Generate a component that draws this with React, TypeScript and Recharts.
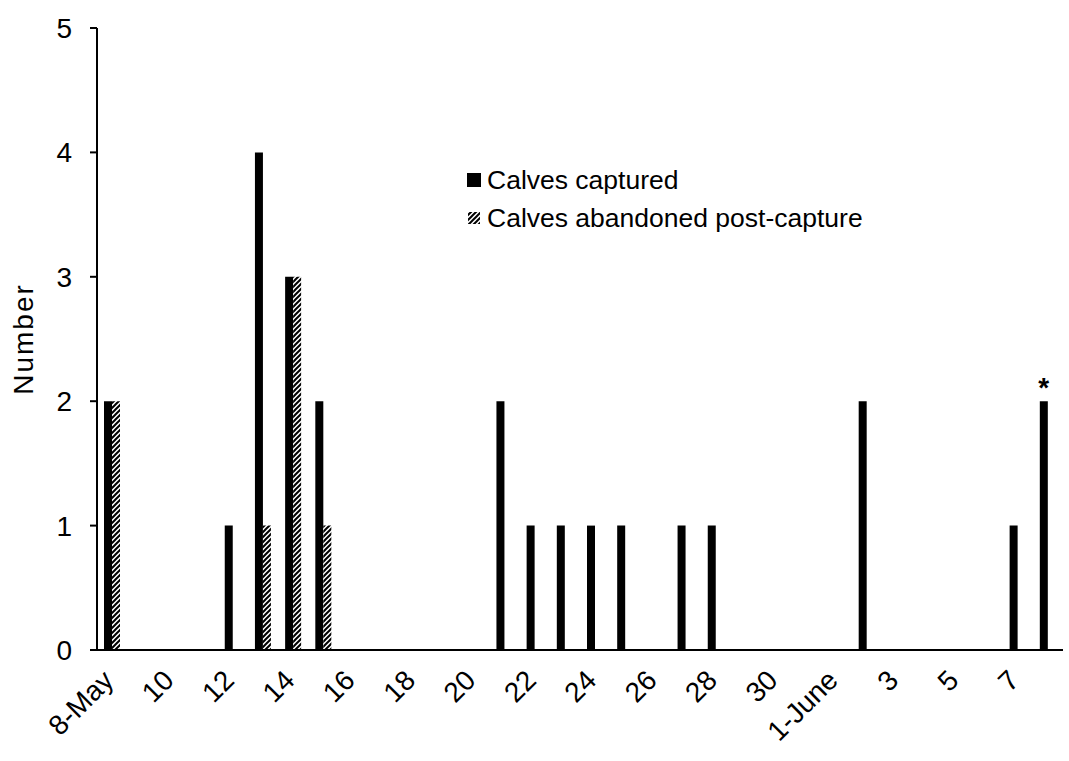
import { BarChart, Bar, XAxis, YAxis, Legend, LabelList } from "recharts"

const days = [
  "8-May", "9", "10", "11", "12", "13", "14", "15", "16", "17", "18", "19", "20",
  "21", "22", "23", "24", "25", "26", "27", "28", "29", "30", "31",
  "1-June", "2", "3", "4", "5", "6", "7", "8",
]
const captured = [2, 0, 0, 0, 1, 4, 3, 2, 0, 0, 0, 0, 0, 2, 1, 1, 1, 1, 0, 1, 1, 0, 0, 0, 0, 2, 0, 0, 0, 0, 1, 2]
const abandoned = [2, 0, 0, 0, 0, 1, 3, 1, 0, 0, 0, 0, 0, 0, 0, 0, 0, 0, 0, 0, 0, 0, 0, 0, 0, 0, 0, 0, 0, 0, 0, 0]
const notes = days.map((_, i) => (i === days.length - 1 ? "*" : ""))
const yTicks = [0, 1, 2, 3, 4, 5]

const FONT = "'Liberation Sans', Arial, sans-serif"

const chartData = days.map((d, i) => ({
  day: d,
  captured: captured[i],
  abandoned: abandoned[i],
  note: notes[i],
}))

function DayTick({ x, y, payload }: any) {
  const px = x + 3
  const py = y + 24
  return (
    <text
      x={px}
      y={py}
      textAnchor="end"
      fontSize={28}
      fontFamily={FONT}
      fill="#000"
      transform={`rotate(-45 ${px} ${py})`}
    >
      {payload.value}
    </text>
  )
}

// diagonal "/" hatching, same for bars and legend swatch
function Hatch({ id }: { id: string }) {
  return (
    <pattern id={id} width={5} height={5} patternUnits="userSpaceOnUse">
      <rect width={5} height={5} fill="#fff" />
      <path d="M0,5 L5,0 M-1,1 L1,-1 M4,6 L6,4" stroke="#000" strokeWidth={2} />
    </pattern>
  )
}

function LegendBox() {
  return (
    <div style={{ fontFamily: FONT, fontSize: 26.5, color: "#000", lineHeight: "38px" }}>
      <svg width={0} height={0} style={{ position: "absolute" }}>
        <defs>
          <Hatch id="hatchLegend" />
        </defs>
      </svg>
      <div style={{ display: "flex", alignItems: "center" }}>
        <svg width={14} height={14} style={{ marginRight: 6 }}>
          <rect width={14} height={14} fill="#000" />
        </svg>
        Calves captured
      </div>
      <div style={{ display: "flex", alignItems: "center" }}>
        <svg width={14} height={14} style={{ marginRight: 6 }}>
          <rect x={1} y={1} width={12} height={12} fill="url(#hatchLegend)" />
        </svg>
        Calves abandoned post-capture
      </div>
    </div>
  )
}

export default function App() {
  return (
    <div style={{ position: "absolute", left: 0, top: 0, width: 1069, height: 761, background: "#fff" }}>
      <BarChart
        width={1069}
        height={761}
        data={chartData}
        margin={{ top: 28, right: 6, left: 0, bottom: 0 }}
        barGap={0}
        barSize={8}
      >
        <defs>
          <Hatch id="hatch" />
        </defs>
        <XAxis
          dataKey="day"
          interval={1}
          tickLine={false}
          axisLine={{ stroke: "#000", strokeWidth: 2 }}
          tick={<DayTick />}
          height={111}
        />
        <YAxis
          domain={[0, 5]}
          ticks={yTicks}
          width={97}
          tickSize={7}
          tickMargin={18}
          tickLine={{ stroke: "#000", strokeWidth: 2 }}
          axisLine={{ stroke: "#000", strokeWidth: 2 }}
          tick={{ fill: "#000", fontSize: 28, fontFamily: FONT }}
          label={{
            value: "Number",
            angle: -90,
            position: "center",
            dx: -25,
            fill: "#000",
            fontSize: 28,
            fontFamily: FONT,
            letterSpacing: 2,
          }}
        />
        <Legend
          layout="vertical"
          align="center"
          verticalAlign="middle"
          content={<LegendBox />}
          wrapperStyle={{ left: 467, top: 161, width: 450 }}
        />
        <Bar dataKey="captured" name="Calves captured" fill="#000" isAnimationActive={false}>
          <LabelList
            dataKey="note"
            position="top"
            offset={4}
            fill="#000"
            fontSize={28}
            fontWeight="bold"
            fontFamily={FONT}
          />
        </Bar>
        <Bar
          dataKey="abandoned"
          name="Calves abandoned post-capture"
          fill="url(#hatch)"
          isAnimationActive={false}
        />
      </BarChart>
    </div>
  )
}
